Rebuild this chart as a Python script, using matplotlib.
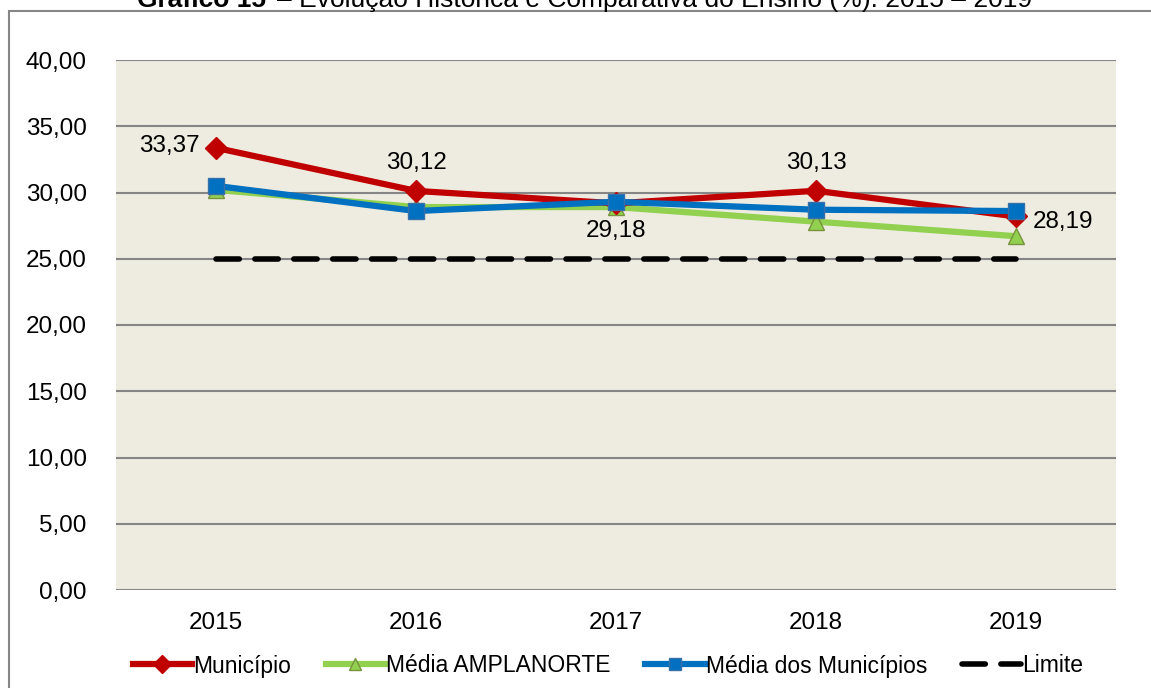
import matplotlib.pyplot as plt
from matplotlib.patches import Rectangle
from matplotlib.ticker import FuncFormatter

plt.rcParams["font.family"] = ["Liberation Sans", "DejaVu Sans"]

# -----------------------------
# Data
# -----------------------------
years = ["2015", "2016", "2017", "2018", "2019"]
municipio = [33.37, 30.12, 29.18, 30.13, 28.19]
media_amplanorte = [30.2, 28.9, 28.9, 27.8, 26.7]
media_municipios = [30.5, 28.6, 29.3, 28.7, 28.6]
limite = [25, 25, 25, 25, 25]

x = list(range(len(years)))

# -----------------------------
# Figure
# -----------------------------
fig = plt.figure(figsize=(11.51, 6.88), dpi=100)
ax = fig.add_axes([116 / 1151, 1 - 590 / 688, 1000 / 1151, 530 / 688])

# outer chart frame (cut by image edge on right/bottom)
fig.patches.append(Rectangle((9 / 1151, -0.05), 1.2, 1 - 11 / 688 + 0.05,
                             transform=fig.transFigure, fill=False,
                             edgecolor="#868686", linewidth=1.5, zorder=0))

# title, only its lower part visible as in the source
fig.text(137 / 1151, 1 - 7 / 688, "Gráfico 15", fontsize=19, fontweight="bold",
         ha="left", va="baseline")
fig.text(277 / 1151, 1 - 7 / 688,
         "– Evolução Histórica e Comparativa do Ensino (%): 2015 – 2019",
         fontsize=19, ha="left", va="baseline")

ax.set_facecolor("#EEECE1")
for s in ax.spines.values():
    s.set_visible(False)

ax.set_xlim(-0.5, 4.5)
ax.set_ylim(0, 40)
ax.set_yticks(range(0, 41, 5))
ax.yaxis.set_major_formatter(FuncFormatter(lambda v, p: f"{v:.2f}".replace(".", ",")))
ax.set_xticks(x)
ax.set_xticklabels(years)
ax.tick_params(axis="both", length=0, labelsize=17.5)
ax.tick_params(axis="x", pad=16)
ax.tick_params(axis="y", pad=21)
ax.grid(axis="y", color="#868686", linewidth=1.5)
ax.set_axisbelow(True)

ax.plot(x, limite, color="black", linewidth=4, linestyle=(0, (4.2, 2.8)),
        dash_capstyle="round", label="Limite", zorder=2)
ax.plot(x, media_amplanorte, color="#92D050", linewidth=4.5, marker="^",
        markersize=11, markerfacecolor="#92D050", markeredgecolor="#77933C",
        markeredgewidth=1, label="Média AMPLANORTE", zorder=3)
ax.plot(x, municipio, color="#C00000", linewidth=4.5, marker="D",
        markersize=11, markerfacecolor="#C00000", markeredgecolor="#C00000",
        label="Município", zorder=4)
ax.plot(x, media_municipios, color="#0070C0", linewidth=4.5, marker="s",
        markersize=11, markerfacecolor="#0070C0", markeredgecolor="#3A6FA8",
        markeredgewidth=1, label="Média dos Municípios", zorder=5)

# data labels for Município
offsets = [(-12, 1, "right", "center"), (0, 12, "center", "bottom"),
           (0, -12, "center", "top"), (0, 12, "center", "bottom"),
           (12, -4, "left", "center")]
for xi, v, (dx, dy, ha, va) in zip(x, municipio, offsets):
    ax.annotate(f"{v:.2f}".replace(".", ","), (xi, v), xytext=(dx, dy),
                textcoords="offset points", ha=ha, va=va, fontsize=17.5)

handles, labels = ax.get_legend_handles_labels()
order = [labels.index(l) for l in ["Município", "Média AMPLANORTE",
                                   "Média dos Municípios", "Limite"]]
fig.legend([handles[i] for i in order], [labels[i] for i in order],
           loc="center", bbox_to_anchor=(608 / 1151, 1 - 666 / 688), ncol=4,
           frameon=False, fontsize=16.5, handlelength=2.6, columnspacing=1.5,
           handletextpad=0.05, numpoints=1, markerscale=0.8)

fig.savefig("out.png", dpi=100)
